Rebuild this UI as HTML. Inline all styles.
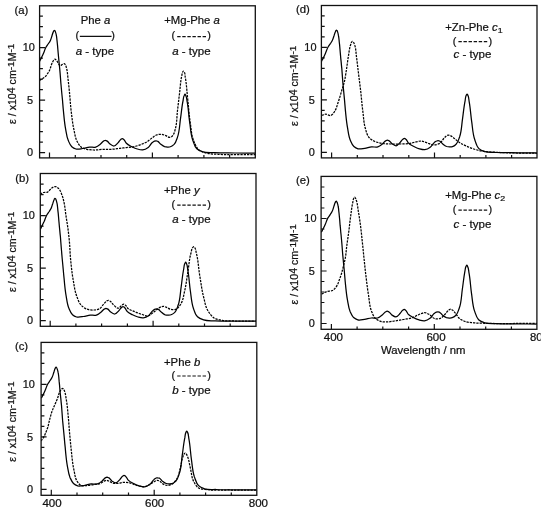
<!DOCTYPE html>
<html><head><meta charset="utf-8"><title>spectra</title><style>html,body{margin:0;padding:0;background:#fff}svg{display:block;will-change:transform;opacity:.999}</style></head><body>
<svg width="550" height="513" viewBox="0 0 550 513">
<rect width="550" height="513" fill="#fff"/>
<defs>
<clipPath id="ca"><rect x="39.6" y="5.8" width="215.7" height="152.1"/></clipPath>
<clipPath id="cb"><rect x="40.3" y="173.5" width="215.7" height="152.8"/></clipPath>
<clipPath id="cc"><rect x="41.1" y="342.4" width="215.7" height="152.9"/></clipPath>
<clipPath id="cd"><rect x="321.4" y="5.5" width="215.6" height="152.4"/></clipPath>
<clipPath id="ce"><rect x="321.1" y="176.4" width="215.8" height="152.9"/></clipPath>
<clipPath id="cr"><rect x="0" y="0" width="540.7" height="513"/></clipPath>
</defs>
<path d="M39.6 152.6 h5.5M39.6 142.1 h3.3M39.6 131.6 h3.3M39.6 121.1 h3.3M39.6 110.6 h3.3M39.6 100.1 h5.5M39.6 89.6 h3.3M39.6 79.1 h3.3M39.6 68.6 h3.3M39.6 58.1 h3.3M39.6 47.6 h5.5M39.6 37.1 h3.3M39.6 26.6 h3.3M39.6 16.1 h3.3M49.5 157.9 v-5.5M75.3 157.9 v-2.8M101.0 157.9 v-2.8M126.7 157.9 v-2.8M152.4 157.9 v-5.5M178.1 157.9 v-2.8M203.9 157.9 v-2.8M229.6 157.9 v-2.8" stroke="#111" stroke-width="1.2" fill="none"/>
<g clip-path="url(#ca)" fill="none" stroke="#000" stroke-width="1.25" stroke-linejoin="round">
<path d="M39.5 61.4C39.9 60.6 40.3 59.9 40.7 59.1C41.6 57.3 42.6 55.5 43.4 53.6C44.4 51.4 44.9 49.0 46.1 47.0C46.8 45.8 47.7 44.7 48.5 43.5C49.2 42.5 49.9 41.5 50.4 40.4C51.1 38.9 51.5 37.3 52.0 35.7C52.4 34.4 52.7 33.1 53.3 31.9C53.5 31.5 53.6 31.0 53.9 30.7C54.0 30.6 54.2 30.3 54.4 30.3C54.5 30.3 54.7 30.5 54.9 30.7C55.2 31.1 55.3 31.6 55.5 32.1C55.9 33.2 56.2 34.4 56.4 35.6C56.7 37.2 56.8 38.8 57.0 40.4C57.2 42.0 57.3 43.5 57.5 45.1C57.8 48.2 58.0 51.2 58.3 54.3C58.5 56.7 58.8 59.2 59.0 61.6C59.2 63.9 59.5 66.3 59.7 68.6C60.2 73.6 60.5 78.5 60.9 83.5C61.4 89.0 61.9 94.6 62.5 100.1C62.8 103.6 63.0 107.1 63.4 110.6C64.0 116.5 64.4 122.5 65.5 128.3C66.3 132.4 66.6 136.8 68.3 140.6C69.2 142.7 70.1 145.2 71.8 146.7C72.9 147.7 74.5 148.6 75.9 149.0C78.0 149.6 80.5 148.8 82.7 148.5C85.0 148.2 87.3 147.3 89.6 147.1C91.6 146.9 93.8 147.7 95.7 147.1C97.4 146.6 99.0 145.2 100.5 144.0C101.6 143.1 102.3 141.8 103.5 141.1C104.1 140.8 104.7 140.3 105.3 140.3C105.9 140.3 106.6 140.8 107.2 141.1C108.3 141.8 108.9 143.2 110.0 144.0C111.2 144.9 112.8 146.1 114.1 146.0C115.6 145.9 117.0 143.9 118.2 142.6C119.2 141.6 119.7 140.2 120.8 139.4C121.3 139.1 121.8 138.5 122.3 138.5C122.8 138.5 123.3 139.0 123.8 139.4C125.0 140.3 125.3 142.2 126.4 143.3C127.8 144.8 129.9 145.7 131.8 146.7C133.6 147.6 135.4 148.5 137.3 149.0C139.0 149.5 141.0 150.1 142.7 149.9C144.6 149.7 146.6 148.6 148.2 147.4C149.8 146.2 150.6 143.9 152.3 142.6C153.0 142.1 153.7 141.5 154.5 141.2C155.0 141.0 155.6 140.9 156.1 140.9C156.7 140.9 157.3 141.2 157.8 141.4C158.9 141.9 159.5 143.2 160.5 144.0C161.8 145.0 163.1 146.2 164.6 146.7C165.7 147.0 166.9 147.2 168.0 147.1C169.0 147.1 170.1 146.9 171.0 146.5C172.1 146.1 173.2 145.2 174.1 144.4C176.0 142.6 176.6 139.6 177.5 137.1C179.6 131.3 179.6 124.8 180.5 118.6C181.4 112.7 181.8 106.8 183.0 101.0C183.4 99.2 183.3 97.1 184.2 95.5C184.4 95.1 184.7 94.2 185.0 94.2C185.3 94.2 185.6 95.1 185.8 95.5C186.8 97.4 186.8 99.8 187.2 102.0C188.5 108.8 188.7 115.7 189.7 122.5C190.6 128.4 190.7 134.5 192.7 140.0C193.8 143.0 194.5 146.7 196.8 148.8C198.4 150.3 200.8 151.2 202.9 151.9C206.5 153.1 210.7 152.5 214.6 152.7C221.4 153.0 228.2 152.9 235.0 153.0C242.0 153.1 249.0 153.1 256.0 153.2"/>
<path d="M39.5 80.3C41.1 79.4 42.8 78.6 44.2 77.5C46.2 75.9 47.7 73.6 49.0 71.4C50.6 68.7 50.9 65.3 52.4 62.5C52.9 61.6 53.3 60.5 54.0 59.8C54.3 59.5 54.6 59.1 54.9 59.1C55.3 59.1 55.7 59.5 56.0 59.8C56.8 60.5 57.2 61.6 57.8 62.5C58.6 63.6 59.3 65.7 60.3 65.7C61.0 65.7 61.7 64.7 62.5 64.3C63.0 64.0 63.7 63.5 64.2 63.6C64.6 63.7 65.1 64.2 65.4 64.6C66.0 65.3 66.0 66.4 66.3 67.3C67.5 71.3 67.6 75.5 68.1 79.6C68.6 83.6 69.0 87.5 69.4 91.5C70.0 97.8 70.4 104.2 71.1 110.5C71.9 116.9 72.5 123.3 73.9 129.6C74.8 133.7 75.3 138.2 77.3 141.8C78.4 143.8 79.6 146.0 81.4 147.3C82.9 148.4 85.0 148.8 86.8 149.3C89.0 149.8 91.4 149.9 93.7 150.0C97.3 150.1 101.0 149.4 104.6 149.3C107.8 149.2 111.0 149.4 114.1 149.1C116.1 148.9 118.0 148.5 120.0 148.3C122.1 148.0 124.3 147.8 126.4 147.6C129.1 147.3 131.9 147.2 134.6 146.6C136.9 146.1 139.2 145.2 141.4 144.3C143.2 143.6 145.1 143.0 146.8 142.0C148.8 140.8 150.4 139.0 152.3 137.7C153.6 136.8 154.9 135.6 156.4 135.0C157.9 134.4 159.6 134.2 161.2 134.3C162.8 134.4 164.4 135.1 165.9 135.7C167.1 136.2 168.3 137.3 169.5 137.3C170.2 137.3 170.9 137.1 171.5 136.8C172.3 136.3 172.9 135.3 173.4 134.5C174.6 132.7 174.9 130.3 175.5 128.2C177.0 122.5 176.8 116.4 177.5 110.5C178.2 104.6 178.9 98.6 179.6 92.7C180.3 87.0 180.5 81.2 181.8 75.6C182.1 74.3 182.0 72.8 182.8 71.8C183.0 71.6 183.2 71.1 183.4 71.1C183.6 71.1 183.9 71.6 184.1 71.8C185.3 73.2 184.9 75.6 185.3 77.5C186.6 84.6 186.9 91.8 187.7 99.0C188.6 106.8 189.0 114.7 190.2 122.4C191.2 128.9 191.4 136.0 194.1 141.9C195.4 144.7 196.6 148.1 199.0 150.0C200.6 151.2 202.8 151.9 204.8 152.6C209.1 154.1 213.9 154.0 218.5 154.3C224.0 154.7 229.5 154.5 235.0 154.5C242.0 154.6 249.0 154.6 256.0 154.6" stroke-dasharray="2.3 1.0"/>
</g>
<rect x="39.6" y="5.8" width="215.7" height="152.1" fill="none" stroke="#111" stroke-width="1.3"/>
<path d="M40.3 320.6 h5.5M40.3 310.1 h3.3M40.3 299.6 h3.3M40.3 289.1 h3.3M40.3 278.6 h3.3M40.3 268.1 h5.5M40.3 257.6 h3.3M40.3 247.1 h3.3M40.3 236.6 h3.3M40.3 226.1 h3.3M40.3 215.6 h5.5M40.3 205.1 h3.3M40.3 194.6 h3.3M40.3 184.1 h3.3M50.2 326.3 v-5.5M75.9 326.3 v-2.8M101.6 326.3 v-2.8M127.4 326.3 v-2.8M153.1 326.3 v-5.5M178.8 326.3 v-2.8M204.5 326.3 v-2.8M230.2 326.3 v-2.8" stroke="#111" stroke-width="1.2" fill="none"/>
<g clip-path="url(#cb)" fill="none" stroke="#000" stroke-width="1.25" stroke-linejoin="round">
<path d="M40.2 229.4C40.6 228.7 41.0 227.9 41.4 227.1C42.3 225.3 43.2 223.5 44.1 221.6C45.0 219.5 45.6 217.1 46.8 215.0C47.5 213.8 48.4 212.7 49.2 211.5C49.8 210.5 50.5 209.5 51.1 208.4C51.8 207.0 52.1 205.3 52.7 203.7C53.1 202.5 53.4 201.2 54.0 199.9C54.1 199.5 54.3 199.1 54.6 198.7C54.7 198.6 54.8 198.4 55.0 198.3C55.2 198.3 55.4 198.6 55.5 198.7C55.8 199.1 56.0 199.7 56.2 200.1C56.6 201.3 56.8 202.5 57.1 203.6C57.4 205.2 57.5 206.8 57.7 208.4C57.8 210.0 58.0 211.6 58.2 213.1C58.5 216.2 58.7 219.3 59.0 222.3C59.2 224.8 59.4 227.2 59.7 229.6C59.9 232.0 60.1 234.3 60.4 236.6C60.8 241.6 61.1 246.6 61.6 251.5C62.0 257.1 62.6 262.6 63.1 268.1C63.4 271.6 63.7 275.2 64.1 278.6C64.6 284.6 65.1 290.5 66.2 296.3C66.9 300.5 67.3 304.8 69.0 308.6C69.9 310.8 70.8 313.2 72.5 314.8C73.6 315.8 75.1 316.6 76.6 317.0C78.6 317.6 81.1 316.9 83.4 316.5C85.7 316.2 87.9 315.4 90.2 315.1C92.3 315.0 94.5 315.7 96.4 315.1C98.1 314.6 99.7 313.3 101.2 312.0C102.2 311.2 103.0 309.8 104.2 309.1C104.7 308.8 105.3 308.4 106.0 308.3C106.6 308.3 107.3 308.8 107.9 309.1C109.0 309.8 109.6 311.3 110.7 312.0C111.9 312.9 113.5 314.1 114.8 314.0C116.2 313.9 117.6 311.9 118.9 310.6C119.8 309.7 120.4 308.3 121.5 307.4C121.9 307.1 122.5 306.5 123.0 306.5C123.5 306.5 124.0 307.1 124.5 307.4C125.7 308.4 126.0 310.2 127.1 311.3C128.5 312.9 130.6 313.8 132.5 314.8C134.2 315.7 136.1 316.5 138.0 317.0C139.7 317.5 141.6 318.2 143.3 317.9C145.3 317.7 147.3 316.6 148.8 315.4C150.5 314.2 151.3 311.9 153.0 310.6C153.6 310.1 154.3 309.5 155.2 309.2C155.7 309.1 156.2 308.9 156.8 308.9C157.3 309.0 157.9 309.2 158.5 309.4C159.6 310.0 160.2 311.3 161.2 312.0C162.4 313.1 163.7 314.3 165.2 314.8C166.3 315.1 167.5 315.2 168.7 315.1C169.7 315.1 170.7 314.9 171.7 314.5C172.8 314.1 173.9 313.3 174.8 312.4C176.6 310.7 177.2 307.6 178.2 305.1C180.3 299.3 180.2 292.8 181.2 286.6C182.0 280.8 182.5 274.9 183.7 269.0C184.0 267.2 184.0 265.2 184.8 263.5C185.1 263.1 185.4 262.2 185.7 262.2C185.9 262.2 186.2 263.1 186.5 263.5C187.5 265.5 187.4 267.9 187.8 270.0C189.1 276.8 189.3 283.7 190.3 290.5C191.2 296.4 191.4 302.5 193.3 308.0C194.4 311.1 195.2 314.8 197.5 316.8C199.0 318.3 201.4 319.2 203.6 319.9C207.2 321.2 211.3 320.6 215.2 320.8C222.0 321.1 228.8 321.0 235.7 321.0C242.6 321.1 249.6 321.2 256.6 321.2"/>
<path d="M40.1 194.1C41.2 193.6 42.3 192.8 43.5 192.5C44.8 192.1 46.4 192.6 47.6 192.1C49.3 191.4 50.1 189.0 51.7 188.0C52.4 187.6 53.1 187.1 53.8 186.9C54.3 186.7 54.8 186.6 55.3 186.6C55.9 186.6 56.5 186.9 57.0 187.2C57.6 187.5 58.0 188.0 58.5 188.4C60.2 190.0 61.0 192.6 61.9 194.8C62.9 197.2 63.4 199.8 64.0 202.3C65.0 206.8 65.3 211.4 66.0 215.9C66.7 220.5 67.5 225.0 68.1 229.6C68.6 233.6 69.0 237.5 69.4 241.5C69.9 247.1 70.0 252.6 70.5 258.2C71.2 265.5 71.9 272.8 73.2 280.0C74.2 285.5 74.8 291.2 76.8 296.4C78.0 299.5 79.1 303.2 81.4 305.5C82.9 307.0 84.8 308.3 86.8 309.1C89.0 310.0 91.7 310.2 94.1 310.0C95.9 309.9 98.0 309.6 99.5 308.7C101.4 307.6 102.5 305.2 104.1 303.6C105.0 302.7 105.7 301.4 106.8 300.9C107.3 300.7 107.8 300.4 108.3 300.4C108.8 300.4 109.4 300.7 109.9 301.0C111.3 301.7 112.0 303.4 113.2 304.5C114.8 305.9 116.9 308.6 118.6 308.2C119.7 307.9 120.5 306.1 121.7 305.3C122.3 304.9 123.0 304.2 123.7 304.2C124.3 304.2 125.0 304.8 125.5 305.2C126.5 305.9 126.8 307.3 127.7 308.2C129.6 310.1 132.5 310.7 135.0 311.8C137.4 312.8 139.8 313.7 142.3 314.5C144.1 315.1 146.0 316.3 147.7 316.0C149.3 315.8 150.8 314.2 152.3 313.2C154.1 311.9 155.8 310.4 157.6 309.1C158.7 308.3 159.7 307.2 161.0 306.8C161.8 306.5 162.6 306.4 163.4 306.4C164.3 306.4 165.2 306.8 166.0 307.1C167.4 307.6 168.7 308.7 170.1 309.1C172.1 309.6 174.7 309.9 176.4 309.1C178.2 308.3 179.4 306.0 180.6 304.3C183.2 300.4 183.6 295.3 184.7 290.7C186.2 284.5 186.8 278.1 187.9 271.8C188.9 265.5 189.3 259.1 191.0 253.0C191.5 251.2 191.5 249.0 192.7 247.6C193.0 247.3 193.4 246.7 193.7 246.7C194.0 246.7 194.4 247.3 194.7 247.6C195.9 249.0 195.8 251.2 196.3 253.0C198.3 260.5 198.5 268.4 199.8 276.0C201.0 283.0 201.8 290.1 203.6 297.0C204.8 301.6 205.4 306.5 207.8 310.5C209.4 313.2 211.4 316.2 214.0 317.9C216.4 319.4 219.6 319.9 222.4 320.4C226.5 321.2 230.8 320.9 235.0 321.0C242.0 321.2 249.0 321.0 256.0 321.0" stroke-dasharray="2.3 1.0"/>
</g>
<rect x="40.3" y="173.5" width="215.7" height="152.8" fill="none" stroke="#111" stroke-width="1.3"/>
<path d="M41.1 489.4 h5.5M41.1 478.9 h3.3M41.1 468.4 h3.3M41.1 457.9 h3.3M41.1 447.4 h3.3M41.1 436.9 h5.5M41.1 426.4 h3.3M41.1 415.9 h3.3M41.1 405.4 h3.3M41.1 394.9 h3.3M41.1 384.4 h5.5M41.1 373.9 h3.3M41.1 363.4 h3.3M41.1 352.9 h3.3M51.3 495.3 v-5.5M77.0 495.3 v-2.8M102.7 495.3 v-2.8M128.5 495.3 v-2.8M154.2 495.3 v-5.5M179.9 495.3 v-2.8M205.6 495.3 v-2.8M231.3 495.3 v-2.8" stroke="#111" stroke-width="1.2" fill="none"/>
<g clip-path="url(#cc)" fill="none" stroke="#000" stroke-width="1.25" stroke-linejoin="round">
<path d="M41.2 398.2C41.6 397.5 42.1 396.7 42.5 395.9C43.4 394.1 44.3 392.3 45.1 390.4C46.1 388.3 46.7 385.9 47.9 383.8C48.6 382.6 49.5 381.5 50.2 380.3C50.9 379.3 51.6 378.3 52.1 377.2C52.9 375.8 53.2 374.1 53.8 372.6C54.2 371.3 54.5 370.0 55.0 368.8C55.2 368.3 55.4 367.9 55.6 367.6C55.8 367.4 55.9 367.2 56.1 367.1C56.3 367.1 56.5 367.4 56.6 367.6C56.9 367.9 57.1 368.5 57.2 368.9C57.7 370.1 57.9 371.3 58.1 372.4C58.5 374.0 58.6 375.6 58.8 377.2C58.9 378.8 59.1 380.4 59.2 381.9C59.6 385.0 59.8 388.1 60.0 391.1C60.3 393.6 60.5 396.0 60.8 398.4C61.0 400.8 61.2 403.1 61.5 405.4C61.9 410.4 62.2 415.4 62.6 420.4C63.1 425.9 63.7 431.4 64.2 436.9C64.5 440.4 64.8 444.0 65.2 447.4C65.7 453.4 66.2 459.3 67.2 465.1C68.0 469.3 68.4 473.6 70.0 477.4C71.0 479.6 71.9 482.0 73.5 483.5C74.7 484.6 76.2 485.4 77.7 485.9C79.7 486.4 82.2 485.7 84.5 485.4C86.8 485.0 89.0 484.2 91.3 483.9C93.4 483.8 95.6 484.5 97.5 483.9C99.2 483.4 100.8 482.1 102.2 480.9C103.3 480.0 104.1 478.6 105.2 477.9C105.8 477.6 106.4 477.2 107.0 477.1C107.7 477.1 108.4 477.6 109.0 477.9C110.1 478.6 110.7 480.1 111.8 480.9C113.0 481.7 114.6 482.9 115.8 482.9C117.3 482.7 118.7 480.7 120.0 479.4C120.9 478.5 121.5 477.1 122.5 476.2C123.0 475.9 123.5 475.4 124.0 475.4C124.5 475.4 125.1 475.9 125.5 476.2C126.8 477.2 127.1 479.0 128.2 480.1C129.6 481.7 131.7 482.6 133.6 483.5C135.3 484.5 137.2 485.3 139.1 485.9C140.8 486.3 142.7 487.0 144.4 486.8C146.4 486.5 148.4 485.4 149.9 484.2C151.6 483.0 152.4 480.7 154.1 479.4C154.7 478.9 155.4 478.3 156.2 478.0C156.8 477.9 157.3 477.7 157.8 477.8C158.4 477.8 159.0 478.0 159.6 478.2C160.7 478.8 161.3 480.1 162.2 480.9C163.5 481.9 164.8 483.1 166.3 483.5C167.4 483.9 168.6 484.0 169.8 483.9C170.8 483.9 171.8 483.7 172.8 483.4C173.9 482.9 175.0 482.1 175.8 481.2C177.7 479.5 178.3 476.4 179.2 473.9C181.4 468.1 181.3 461.6 182.2 455.4C183.1 449.6 183.6 443.7 184.8 437.9C185.1 436.0 185.1 434.0 185.9 432.4C186.2 431.9 186.5 431.0 186.8 431.0C187.0 431.0 187.3 431.9 187.6 432.4C188.6 434.3 188.5 436.7 188.9 438.9C190.2 445.6 190.4 452.5 191.4 459.4C192.3 465.2 192.5 471.3 194.4 476.9C195.5 479.9 196.3 483.6 198.6 485.6C200.1 487.1 202.5 488.0 204.7 488.8C208.3 490.0 212.4 489.4 216.3 489.5C223.1 489.9 229.9 489.8 236.8 489.9C243.7 489.9 250.8 490.0 257.8 490.0"/>
<path d="M41.0 441.0C42.0 439.5 43.2 438.1 44.0 436.6C44.8 435.1 45.4 433.5 46.0 432.0C46.6 430.4 47.3 428.8 47.8 427.2C48.7 424.4 49.1 421.4 49.9 418.6C50.6 416.1 51.2 413.5 52.1 411.1C52.9 408.9 53.9 406.8 54.8 404.7C55.7 402.7 56.6 400.8 57.4 398.8C58.3 396.4 58.7 393.8 59.9 391.6C60.4 390.7 60.8 389.6 61.6 389.0C61.9 388.8 62.3 388.4 62.6 388.4C62.9 388.4 63.2 388.8 63.5 389.0C64.1 389.6 64.3 390.6 64.6 391.4C65.6 394.0 65.8 396.9 66.3 399.6C67.2 404.7 67.6 409.9 68.1 415.0C68.7 420.7 69.0 426.3 69.5 432.0C70.0 437.6 70.5 443.1 71.1 448.7C71.9 455.9 72.4 463.2 74.0 470.2C74.8 473.8 75.0 477.8 76.9 480.9C77.9 482.5 79.2 484.6 80.8 485.4C82.4 486.2 84.7 485.7 86.7 485.6C89.3 485.5 91.9 484.8 94.5 484.4C96.4 484.1 98.5 484.2 100.3 483.5C101.6 483.0 102.7 481.8 104.0 481.2C104.7 480.9 105.5 480.4 106.2 480.3C107.0 480.2 107.8 480.6 108.5 480.9C109.7 481.3 110.8 482.4 112.0 482.8C113.8 483.4 115.9 483.5 117.9 483.4C119.8 483.3 121.8 482.4 123.7 482.3C125.7 482.2 127.7 482.4 129.6 482.8C132.4 483.4 135.0 485.1 137.8 485.8C140.0 486.3 142.4 487.0 144.6 486.7C146.3 486.4 148.0 485.6 149.5 484.8C151.2 483.9 152.6 482.4 154.4 481.5C155.3 481.0 156.3 480.3 157.3 480.3C158.1 480.3 159.0 480.8 159.8 481.2C160.7 481.7 161.3 482.8 162.2 483.4C163.6 484.4 165.4 485.3 167.0 485.4C168.6 485.5 170.5 484.9 171.9 484.2C173.9 483.1 175.5 480.9 176.8 478.9C178.8 475.8 179.3 471.8 180.3 468.2C181.4 464.3 181.5 460.2 183.0 456.5C183.4 455.6 183.6 454.4 184.3 453.7C184.6 453.4 184.9 453.0 185.2 453.0C185.5 453.0 185.8 453.4 186.1 453.7C186.8 454.4 187.1 455.6 187.5 456.5C189.1 460.2 189.4 464.3 190.4 468.2C191.5 472.8 191.6 477.8 193.9 481.9C195.1 484.0 196.4 486.4 198.2 487.7C200.7 489.5 204.7 489.2 208.0 489.7C215.2 490.7 222.7 489.9 230.0 490.0C239.0 490.1 248.0 490.0 257.0 490.0" stroke-dasharray="2.3 1.0"/>
</g>
<rect x="41.1" y="342.4" width="215.7" height="152.9" fill="none" stroke="#111" stroke-width="1.3"/>
<path d="M321.4 152.4 h5.5M321.4 141.9 h3.3M321.4 131.4 h3.3M321.4 120.9 h3.3M321.4 110.4 h3.3M321.4 99.9 h5.5M321.4 89.4 h3.3M321.4 78.9 h3.3M321.4 68.4 h3.3M321.4 57.9 h3.3M321.4 47.4 h5.5M321.4 36.9 h3.3M321.4 26.4 h3.3M321.4 15.9 h3.3M331.6 157.9 v-5.5M357.3 157.9 v-2.8M383.0 157.9 v-2.8M408.8 157.9 v-2.8M434.5 157.9 v-5.5M460.2 157.9 v-2.8M485.9 157.9 v-2.8M511.6 157.9 v-2.8" stroke="#111" stroke-width="1.2" fill="none"/>
<g clip-path="url(#cd)" fill="none" stroke="#000" stroke-width="1.25" stroke-linejoin="round">
<path d="M321.6 61.2C321.9 60.4 322.4 59.7 322.8 58.9C323.7 57.1 324.6 55.3 325.4 53.4C326.4 51.2 327.0 48.8 328.2 46.8C328.9 45.6 329.8 44.5 330.6 43.3C331.2 42.3 331.9 41.3 332.4 40.2C333.2 38.7 333.5 37.1 334.1 35.5C334.5 34.2 334.8 32.9 335.4 31.7C335.5 31.3 335.7 30.8 335.9 30.5C336.1 30.4 336.2 30.1 336.4 30.1C336.6 30.1 336.8 30.3 336.9 30.5C337.2 30.9 337.4 31.4 337.6 31.9C338.0 33.0 338.2 34.2 338.4 35.4C338.8 37.0 338.9 38.6 339.1 40.2C339.2 41.8 339.4 43.3 339.6 44.9C339.9 48.0 340.1 51.0 340.4 54.1C340.6 56.5 340.8 59.0 341.1 61.4C341.3 63.7 341.5 66.1 341.8 68.4C342.2 73.4 342.5 78.3 342.9 83.3C343.4 88.8 344.0 94.4 344.5 99.9C344.8 103.4 345.1 106.9 345.4 110.4C346.0 116.3 346.5 122.3 347.6 128.1C348.3 132.2 348.7 136.6 350.4 140.4C351.3 142.5 352.2 145.0 353.9 146.5C355.0 147.5 356.5 148.4 358.0 148.8C360.0 149.4 362.5 148.6 364.8 148.3C367.1 148.0 369.3 147.1 371.6 146.9C373.7 146.7 375.9 147.5 377.8 146.9C379.5 146.4 381.1 145.0 382.6 143.8C383.6 142.9 384.4 141.6 385.6 140.9C386.1 140.6 386.7 140.1 387.4 140.1C388.0 140.1 388.7 140.6 389.2 140.9C390.4 141.6 391.0 143.0 392.1 143.8C393.3 144.7 394.9 145.9 396.1 145.8C397.6 145.7 399.0 143.7 400.2 142.4C401.2 141.4 401.8 140.0 402.9 139.2C403.3 138.9 403.9 138.3 404.4 138.3C404.9 138.3 405.4 138.8 405.9 139.2C407.1 140.1 407.4 142.0 408.5 143.1C409.9 144.6 412.0 145.5 413.9 146.5C415.6 147.4 417.5 148.3 419.4 148.8C421.1 149.3 423.0 149.9 424.8 149.7C426.7 149.5 428.7 148.4 430.2 147.2C431.9 146.0 432.7 143.7 434.4 142.4C435.0 141.9 435.7 141.3 436.6 141.0C437.1 140.8 437.6 140.7 438.1 140.7C438.7 140.7 439.3 141.0 439.9 141.2C441.0 141.7 441.6 143.0 442.6 143.8C443.8 144.8 445.1 146.0 446.6 146.5C447.7 146.8 448.9 147.0 450.1 146.9C451.1 146.9 452.1 146.7 453.1 146.3C454.2 145.9 455.3 145.0 456.1 144.2C458.0 142.4 458.6 139.4 459.6 136.9C461.7 131.1 461.6 124.6 462.6 118.4C463.4 112.5 463.9 106.6 465.1 100.8C465.4 99.0 465.4 96.9 466.2 95.3C466.5 94.9 466.8 94.0 467.1 94.0C467.3 94.0 467.6 94.9 467.9 95.3C468.9 97.2 468.8 99.6 469.2 101.8C470.5 108.6 470.7 115.5 471.8 122.3C472.6 128.2 472.8 134.3 474.8 139.8C475.8 142.8 476.6 146.5 478.9 148.6C480.4 150.1 482.8 151.0 485.0 151.7C488.6 152.9 492.7 152.3 496.6 152.5C503.4 152.8 510.2 152.7 517.0 152.8C524.0 152.9 531.0 152.9 538.0 153.0"/>
<path d="M321.6 115.5C322.8 115.1 324.1 114.3 325.3 114.2C327.1 114.0 329.2 116.0 330.7 115.5C332.2 115.1 333.4 113.2 334.4 111.8C336.3 109.2 336.9 105.8 338.0 102.7C339.5 98.5 340.7 94.2 341.9 90.0C342.7 87.4 343.6 84.9 344.2 82.3C345.2 78.3 345.7 74.1 346.4 70.0C347.1 65.5 347.6 60.9 348.4 56.4C349.0 52.8 349.3 49.0 350.4 45.5C350.8 44.4 350.9 43.0 351.6 42.1C351.9 41.8 352.2 41.4 352.4 41.4C352.7 41.4 353.1 41.8 353.4 42.1C354.0 42.8 354.2 43.9 354.6 44.8C356.1 48.8 355.9 53.4 356.6 57.7C357.3 63.2 357.9 68.6 358.6 74.1C359.3 80.1 360.1 86.0 360.8 92.0C361.5 98.6 362.0 105.2 362.9 111.8C363.6 117.3 363.7 122.9 365.3 128.2C366.2 131.3 366.9 134.9 368.9 137.3C370.3 139.0 372.4 140.3 374.4 141.3C376.6 142.4 379.2 142.8 381.6 143.3C384.6 143.9 387.7 143.9 390.7 144.0C393.7 144.1 396.8 144.1 399.8 144.0C402.8 143.9 405.9 144.1 408.9 143.6C411.3 143.2 413.6 142.4 415.9 141.9C417.5 141.6 419.0 141.0 420.6 141.0C422.6 141.0 424.5 142.0 426.5 142.6C428.9 143.3 431.2 145.0 433.6 145.0C435.6 145.0 437.9 144.4 439.6 143.4C441.6 142.2 442.6 139.6 444.3 137.9C445.1 137.1 445.8 136.1 446.8 135.6C447.3 135.4 447.9 135.1 448.5 135.1C449.1 135.1 449.7 135.4 450.3 135.6C451.6 136.1 452.6 137.1 453.7 137.9C455.7 139.4 457.5 141.2 459.6 142.6C461.8 144.0 464.3 145.1 466.7 146.2C469.0 147.2 471.4 148.2 473.8 149.0C476.1 149.8 478.5 150.4 480.9 150.9C484.8 151.7 488.8 151.8 492.7 152.1C498.2 152.5 503.8 152.6 509.3 152.8C518.5 153.1 527.8 153.1 537.0 153.3" stroke-dasharray="2.3 1.0"/>
</g>
<rect x="321.4" y="5.5" width="215.6" height="152.4" fill="none" stroke="#111" stroke-width="1.3"/>
<path d="M321.1 323.5 h5.5M321.1 313.0 h3.3M321.1 302.5 h3.3M321.1 292.0 h3.3M321.1 281.5 h3.3M321.1 271.0 h5.5M321.1 260.5 h3.3M321.1 250.0 h3.3M321.1 239.5 h3.3M321.1 229.0 h3.3M321.1 218.5 h5.5M321.1 208.0 h3.3M321.1 197.5 h3.3M321.1 187.0 h3.3M331.4 329.4 v-5.5M357.1 329.4 v-2.8M382.8 329.4 v-2.8M408.6 329.4 v-2.8M434.3 329.4 v-5.5M460.0 329.4 v-2.8M485.7 329.4 v-2.8M511.4 329.4 v-2.8" stroke="#111" stroke-width="1.2" fill="none"/>
<g clip-path="url(#ce)" fill="none" stroke="#000" stroke-width="1.25" stroke-linejoin="round">
<path d="M321.3 232.3C321.7 231.5 322.2 230.8 322.5 230.0C323.5 228.2 324.4 226.4 325.2 224.5C326.2 222.3 326.8 219.9 327.9 217.9C328.7 216.7 329.6 215.6 330.3 214.4C331.0 213.4 331.7 212.4 332.2 211.3C333.0 209.8 333.3 208.2 333.8 206.6C334.3 205.3 334.6 204.0 335.1 202.8C335.3 202.4 335.5 201.9 335.7 201.6C335.9 201.5 336.0 201.2 336.2 201.2C336.4 201.2 336.6 201.4 336.7 201.6C337.0 202.0 337.2 202.5 337.3 203.0C337.8 204.1 338.0 205.3 338.2 206.5C338.6 208.1 338.7 209.7 338.8 211.3C339.0 212.9 339.2 214.4 339.3 216.0C339.7 219.1 339.9 222.1 340.1 225.2C340.4 227.6 340.6 230.1 340.8 232.5C341.1 234.8 341.3 237.2 341.5 239.5C342.0 244.5 342.3 249.4 342.7 254.4C343.2 259.9 343.8 265.5 344.3 271.0C344.6 274.5 344.9 278.0 345.2 281.5C345.8 287.4 346.3 293.4 347.3 299.2C348.1 303.3 348.5 307.7 350.1 311.5C351.1 313.6 352.0 316.1 353.6 317.6C354.8 318.6 356.3 319.5 357.8 319.9C359.8 320.5 362.3 319.7 364.5 319.4C366.9 319.1 369.1 318.2 371.4 318.0C373.5 317.8 375.7 318.6 377.5 318.0C379.3 317.5 380.9 316.1 382.3 314.9C383.4 314.0 384.2 312.7 385.3 312.0C385.9 311.7 386.5 311.2 387.1 311.2C387.8 311.2 388.5 311.7 389.0 312.0C390.2 312.7 390.8 314.1 391.8 314.9C393.1 315.8 394.7 317.0 395.9 316.9C397.4 316.8 398.8 314.8 400.0 313.5C401.0 312.5 401.6 311.1 402.6 310.3C403.1 310.0 403.6 309.4 404.1 309.4C404.6 309.4 405.2 309.9 405.6 310.3C406.9 311.2 407.2 313.1 408.2 314.2C409.7 315.7 411.8 316.6 413.6 317.6C415.4 318.5 417.3 319.4 419.1 319.9C420.9 320.4 422.8 321.0 424.5 320.8C426.5 320.6 428.5 319.5 430.0 318.3C431.7 317.1 432.5 314.8 434.1 313.5C434.8 313.0 435.5 312.4 436.3 312.1C436.9 311.9 437.4 311.8 437.9 311.8C438.5 311.8 439.1 312.1 439.6 312.3C440.8 312.8 441.4 314.1 442.3 314.9C443.6 315.9 444.9 317.1 446.4 317.6C447.5 317.9 448.7 318.1 449.8 318.0C450.9 318.0 451.9 317.8 452.8 317.4C454.0 317.0 455.1 316.1 455.9 315.3C457.8 313.5 458.4 310.5 459.3 308.0C461.5 302.2 461.4 295.7 462.3 289.5C463.2 283.6 463.7 277.7 464.8 271.9C465.2 270.1 465.2 268.0 466.0 266.4C466.3 266.0 466.6 265.1 466.8 265.1C467.1 265.1 467.4 266.0 467.6 266.4C468.7 268.3 468.6 270.7 469.0 272.9C470.3 279.7 470.5 286.6 471.5 293.4C472.4 299.3 472.6 305.4 474.5 310.9C475.6 313.9 476.4 317.6 478.6 319.7C480.2 321.2 482.6 322.1 484.8 322.8C488.4 324.0 492.5 323.4 496.4 323.6C503.2 323.9 510.0 323.8 516.8 323.9C523.8 324.0 530.8 324.0 537.8 324.1"/>
<path d="M321.6 294.1C323.4 293.2 325.2 292.0 327.1 291.4C328.8 290.9 331.0 291.3 332.5 290.5C334.0 289.7 335.2 288.2 336.2 286.8C338.0 284.5 338.7 281.4 339.8 278.6C341.4 274.5 342.4 270.2 343.5 265.9C344.2 263.1 344.9 260.3 345.4 257.5C346.0 254.1 346.2 250.7 346.6 247.3C347.2 242.3 348.0 237.3 348.7 232.3C349.4 226.8 349.9 221.4 350.7 215.9C351.3 211.4 351.8 206.8 352.8 202.3C353.1 200.9 353.1 199.2 353.9 198.0C354.1 197.7 354.4 197.1 354.6 197.1C354.9 197.1 355.2 197.7 355.4 198.0C356.0 198.8 356.2 199.9 356.5 200.9C357.5 204.0 357.7 207.3 358.2 210.5C359.0 215.0 359.7 219.6 360.3 224.1C361.1 230.0 361.7 235.9 362.3 241.8C362.9 247.0 363.4 252.3 363.9 257.5C364.5 262.7 365.0 268.0 365.6 273.2C366.5 280.5 367.3 287.8 368.5 295.0C369.4 300.5 369.5 306.3 371.6 311.4C372.6 313.8 373.5 316.6 375.3 318.3C376.7 319.7 378.8 320.8 380.7 321.4C382.7 322.0 385.0 321.9 387.1 321.9C389.5 321.9 392.0 321.3 394.4 321.0C397.4 320.6 400.5 320.1 403.5 319.5C406.5 318.9 409.7 318.7 412.5 317.6C414.1 317.0 415.6 316.1 417.1 315.4C418.7 314.7 420.2 313.9 421.8 313.4C422.8 313.1 423.7 312.6 424.7 312.6C426.1 312.6 427.6 313.6 428.9 314.3C431.0 315.4 432.6 318.0 434.8 318.6C436.3 319.0 438.1 319.0 439.6 318.6C441.9 318.0 443.7 315.6 445.5 313.8C446.7 312.6 447.4 310.9 448.8 310.0C449.4 309.6 450.1 309.1 450.7 309.1C451.3 309.1 451.9 309.6 452.4 310.0C453.4 310.7 454.1 311.7 454.9 312.6C456.6 314.5 457.7 317.1 459.6 318.6C461.3 320.0 463.5 320.9 465.6 321.6C468.2 322.5 471.1 322.5 473.8 322.8C477.7 323.2 481.7 323.2 485.7 323.3C502.8 323.9 519.9 323.3 537.0 323.3" stroke-dasharray="2.3 1.0"/>
</g>
<rect x="321.1" y="176.4" width="215.8" height="152.9" fill="none" stroke="#111" stroke-width="1.3"/>
<g font-family='"Liberation Sans", sans-serif' font-size="10.5px" fill="#111" stroke="#111" stroke-width="0.22">
<text transform="translate(14.40 13.80) scale(1.080 1)" text-anchor="start" >(a)</text>
<text transform="translate(15.30 182.20) scale(1.080 1)" text-anchor="start" >(b)</text>
<text transform="translate(14.90 350.20) scale(1.080 1)" text-anchor="start" >(c)</text>
<text transform="translate(296.00 12.70) scale(1.080 1)" text-anchor="start" >(d)</text>
<text transform="translate(296.00 183.60) scale(1.080 1)" text-anchor="start" >(e)</text>
<text transform="translate(33.00 156.20) scale(1.040 1)" text-anchor="end" >0</text>
<text transform="translate(33.00 103.70) scale(1.040 1)" text-anchor="end" >5</text>
<text transform="translate(34.80 51.20) scale(1.040 1)" text-anchor="end" >10</text>
<text transform="translate(16.0 83.7) rotate(-90) scale(1.03 1)" text-anchor="middle" font-size="10.3px">ε / x10<tspan dy="-1.5">4</tspan><tspan dy="1.5"> cm</tspan><tspan font-size="9.8px" dy="-2.4">-1</tspan><tspan dy="2.4">M</tspan><tspan font-size="9.8px" dy="-2.4">-1</tspan></text>
<text transform="translate(33.00 324.25) scale(1.040 1)" text-anchor="end" >0</text>
<text transform="translate(33.00 271.75) scale(1.040 1)" text-anchor="end" >5</text>
<text transform="translate(34.80 219.25) scale(1.040 1)" text-anchor="end" >10</text>
<text transform="translate(16.0 251.8) rotate(-90) scale(1.03 1)" text-anchor="middle" font-size="10.3px">ε / x10<tspan dy="-1.5">4</tspan><tspan dy="1.5"> cm</tspan><tspan font-size="9.8px" dy="-2.4">-1</tspan><tspan dy="2.4">M</tspan><tspan font-size="9.8px" dy="-2.4">-1</tspan></text>
<text transform="translate(33.00 493.05) scale(1.040 1)" text-anchor="end" >0</text>
<text transform="translate(33.00 440.55) scale(1.040 1)" text-anchor="end" >5</text>
<text transform="translate(34.80 388.05) scale(1.040 1)" text-anchor="end" >10</text>
<text transform="translate(16.0 421.6) rotate(-90) scale(1.03 1)" text-anchor="middle" font-size="10.3px">ε / x10<tspan dy="-1.5">4</tspan><tspan dy="1.5"> cm</tspan><tspan font-size="9.8px" dy="-2.4">-1</tspan><tspan dy="2.4">M</tspan><tspan font-size="9.8px" dy="-2.4">-1</tspan></text>
<text transform="translate(314.70 156.00) scale(1.040 1)" text-anchor="end" >0</text>
<text transform="translate(314.70 103.50) scale(1.040 1)" text-anchor="end" >5</text>
<text transform="translate(316.50 51.00) scale(1.040 1)" text-anchor="end" >10</text>
<text transform="translate(298.3 85.8) rotate(-90) scale(1.03 1)" text-anchor="middle" font-size="10.3px">ε / x10<tspan dy="-1.5">4</tspan><tspan dy="1.5"> cm</tspan><tspan font-size="9.8px" dy="-2.4">-1</tspan><tspan dy="2.4">M</tspan><tspan font-size="9.8px" dy="-2.4">-1</tspan></text>
<text transform="translate(314.70 327.10) scale(1.040 1)" text-anchor="end" >0</text>
<text transform="translate(314.70 274.60) scale(1.040 1)" text-anchor="end" >5</text>
<text transform="translate(316.50 222.10) scale(1.040 1)" text-anchor="end" >10</text>
<text transform="translate(298.3 264.3) rotate(-90) scale(1.03 1)" text-anchor="middle" font-size="10.3px">ε / x10<tspan dy="-1.5">4</tspan><tspan dy="1.5"> cm</tspan><tspan font-size="9.8px" dy="-2.4">-1</tspan><tspan dy="2.4">M</tspan><tspan font-size="9.8px" dy="-2.4">-1</tspan></text>
<text transform="translate(52.00 507.10) scale(1.100 1)" text-anchor="middle" >400</text>
<text transform="translate(154.60 507.10) scale(1.100 1)" text-anchor="middle" >600</text>
<text transform="translate(258.40 507.10) scale(1.100 1)" text-anchor="middle" >800</text>
<text transform="translate(333.40 340.90) scale(1.100 1)" text-anchor="middle" >400</text>
<text transform="translate(436.00 340.90) scale(1.100 1)" text-anchor="middle" >600</text>
<g clip-path="url(#cr)"><text transform="translate(530.00 340.70) scale(1.080 1)" text-anchor="start" >800</text></g>
<text transform="translate(381.00 353.80) scale(1.100 1)" text-anchor="start" font-size="10.3px" >Wavelength / nm</text>
<text transform="translate(95.45 24.20) scale(1.100 1)" text-anchor="middle" font-size="10.3px" >Phe <tspan font-style="italic">a</tspan></text>
<text transform="translate(94.90 54.80) scale(1.120 1)" text-anchor="middle" font-size="10.3px" ><tspan font-style="italic">a</tspan> - type</text>
<text transform="translate(192.00 24.20) scale(1.100 1)" text-anchor="middle" font-size="10.3px" >+Mg-Phe <tspan font-style="italic">a</tspan></text>
<text transform="translate(75.40 39.45) scale(1.060 1)" text-anchor="start" font-size="10.3px" >(</text><text transform="translate(114.90 39.45) scale(1.060 1)" text-anchor="end" font-size="10.3px" >)</text>
<text transform="translate(171.50 39.45) scale(1.060 1)" text-anchor="start" font-size="10.3px" >(</text><text transform="translate(211.00 39.45) scale(1.060 1)" text-anchor="end" font-size="10.3px" >)</text>
<text transform="translate(191.35 54.80) scale(1.120 1)" text-anchor="middle" font-size="10.3px" ><tspan font-style="italic">a</tspan> - type</text>
<text transform="translate(164.00 194.20) scale(1.100 1)" text-anchor="start" font-size="10.3px" >+Phe <tspan font-style="italic">y</tspan></text>
<text transform="translate(171.50 208.00) scale(1.060 1)" text-anchor="start" font-size="10.3px" >(</text><text transform="translate(211.00 208.00) scale(1.060 1)" text-anchor="end" font-size="10.3px" >)</text>
<text transform="translate(191.40 222.60) scale(1.120 1)" text-anchor="middle" font-size="10.3px" ><tspan font-style="italic">a</tspan> - type</text>
<text transform="translate(164.00 366.00) scale(1.100 1)" text-anchor="start" font-size="10.3px" >+Phe <tspan font-style="italic">b</tspan></text>
<text transform="translate(171.50 378.85) scale(1.060 1)" text-anchor="start" font-size="10.3px" >(</text><text transform="translate(211.00 378.85) scale(1.060 1)" text-anchor="end" font-size="10.3px" >)</text>
<text transform="translate(191.40 394.00) scale(1.120 1)" text-anchor="middle" font-size="10.3px" ><tspan font-style="italic">b</tspan> - type</text>
<text transform="translate(445.20 30.70) scale(1.100 1)" text-anchor="start" font-size="10.3px" >+Zn-Phe <tspan font-style="italic">c</tspan><tspan font-size="8px" dy="2.2">1</tspan></text>
<text transform="translate(452.70 44.50) scale(1.060 1)" text-anchor="start" font-size="10.3px" >(</text><text transform="translate(492.20 44.50) scale(1.060 1)" text-anchor="end" font-size="10.3px" >)</text>
<text transform="translate(472.45 58.30) scale(1.120 1)" text-anchor="middle" font-size="10.3px" ><tspan font-style="italic">c</tspan> - type</text>
<text transform="translate(445.20 199.20) scale(1.100 1)" text-anchor="start" font-size="10.3px" >+Mg-Phe <tspan font-style="italic">c</tspan><tspan font-size="8px" dy="2.2">2</tspan></text>
<text transform="translate(452.70 213.00) scale(1.060 1)" text-anchor="start" font-size="10.3px" >(</text><text transform="translate(492.20 213.00) scale(1.060 1)" text-anchor="end" font-size="10.3px" >)</text>
<text transform="translate(472.45 227.60) scale(1.120 1)" text-anchor="middle" font-size="10.3px" ><tspan font-style="italic">c</tspan> - type</text>
</g>
<path d="M79.85 36.30H111.55" stroke="#111" stroke-width="1.2"/>
<path d="M177.20 36.60H206.00" stroke="#111" stroke-width="1.15" stroke-dasharray="3.4 1.68"/>
<path d="M177.20 205.15H206.00" stroke="#111" stroke-width="1.15" stroke-dasharray="3.4 1.68"/>
<path d="M177.20 376.00H206.00" stroke="#111" stroke-width="1.15" stroke-dasharray="3.4 1.68"/>
<path d="M458.40 41.65H487.20" stroke="#111" stroke-width="1.15" stroke-dasharray="3.4 1.68"/>
<path d="M458.40 210.15H487.20" stroke="#111" stroke-width="1.15" stroke-dasharray="3.4 1.68"/>
</svg>
</body></html>
